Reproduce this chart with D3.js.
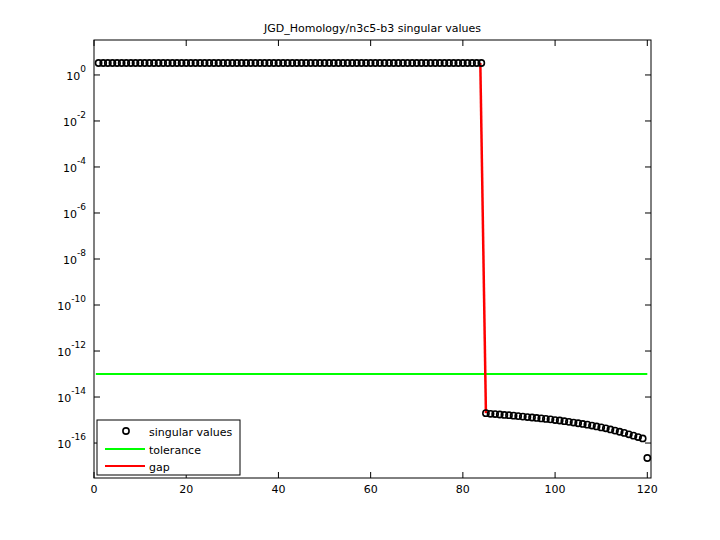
<!DOCTYPE html>
<html><head><meta charset="utf-8">
<script src="https://cdn.jsdelivr.net/npm/d3@7"></script>
<style>body{margin:0;background:#fff}text{font-family:"DejaVu Sans",sans-serif;font-size:11px}</style>
</head><body><svg id="c" width="720" height="540"></svg>
<script>
// data (log10 of singular values)
const topCount = 84;
const topExp = 0.52;
const tailExp = [-14.70,-14.73,-14.74,-14.76,-14.78,-14.79,-14.81,-14.83,-14.85,-14.87,-14.89,-14.91,-14.93,-14.95,-14.97,-15.00,-15.02,-15.05,-15.08,-15.11,-15.14,-15.17,-15.20,-15.24,-15.28,-15.32,-15.36,-15.41,-15.46,-15.51,-15.56,-15.62,-15.68,-15.74,-15.80,-16.65];
const tolerance = 1e-13;
const xTicks = [0,20,40,60,80,100,120];
const yTickExps = [0,-2,-4,-6,-8,-10,-12,-14,-16];

const sv = [];
for (let i = 1; i <= topCount; i++) sv.push({i, v: Math.pow(10, topExp)});
tailExp.forEach((e, k) => sv.push({i: topCount + 1 + k, v: Math.pow(10, e)}));

const svg = d3.select("#c");
const L = 94, R = 651, T = 40, B = 478;
const x = d3.scaleLinear().domain([0,120.8]).range([L,R]);
const y = d3.scaleLog().domain([Math.pow(10,-17.52), Math.pow(10,1.52)]).range([B,T]);

svg.append("text").attr("x",(L+R)/2).attr("y",32).attr("text-anchor","middle").text("JGD_Homology/n3c5-b3 singular values");

// ticks inside
const g = svg.append("g").attr("stroke","#000");
xTicks.forEach(t => {
  g.append("line").attr("x1",x(t)).attr("x2",x(t)).attr("y1",B).attr("y2",B-6);
  g.append("line").attr("x1",x(t)).attr("x2",x(t)).attr("y1",T).attr("y2",T+6);
  svg.append("text").attr("x",x(t)).attr("y",B+15).attr("text-anchor","middle").text(t);
});
yTickExps.forEach(e => {
  const yy = y(Math.pow(10,e));
  g.append("line").attr("x1",L).attr("x2",L+6).attr("y1",yy).attr("y2",yy);
  g.append("line").attr("x1",R).attr("x2",R-6).attr("y1",yy).attr("y2",yy);
  const t = svg.append("text").attr("x",L-8).attr("y",yy+5).attr("text-anchor","end");
  t.append("tspan").text("10");
  t.append("tspan").attr("dy",-8).attr("font-size","9px").text(e);
});

// tolerance
svg.append("line").attr("x1",x(0.4)).attr("x2",x(120)).attr("y1",y(tolerance)).attr("y2",y(tolerance))
  .attr("stroke","#00ff00").attr("stroke-width",2);
// gap
const a = sv[topCount-1], b = sv[topCount];
svg.append("line").attr("x1",x(a.i)-1).attr("y1",y(a.v)).attr("x2",x(b.i)).attr("y2",y(b.v))
  .attr("stroke","#ff0000").attr("stroke-width",2.5);
// points
svg.append("g").selectAll("circle").data(sv).enter().append("circle")
  .attr("cx",d=>x(d.i)).attr("cy",d=>y(d.v)).attr("r",3.1)
  .attr("fill","none").attr("stroke","#000").attr("stroke-width",1.6);

svg.append("rect").attr("x",L).attr("y",T).attr("width",R-L).attr("height",B-T)
  .attr("fill","none").attr("stroke","#000");

// legend
const lg = svg.append("g");
lg.append("rect").attr("x",97).attr("y",420).attr("width",143).attr("height",55).attr("fill","#fff").attr("stroke","#000");
lg.append("circle").attr("cx",126).attr("cy",431).attr("r",3.1).attr("fill","none").attr("stroke","#000").attr("stroke-width",1.6);
lg.append("line").attr("x1",105).attr("x2",145).attr("y1",449).attr("y2",449).attr("stroke","#00ff00").attr("stroke-width",2);
lg.append("line").attr("x1",105).attr("x2",145).attr("y1",466).attr("y2",466).attr("stroke","#ff0000").attr("stroke-width",2);
[["singular values",436],["tolerance",454],["gap",471]].forEach(([s,yy]) =>
  lg.append("text").attr("x",149).attr("y",yy).text(s));
</script></body></html>
